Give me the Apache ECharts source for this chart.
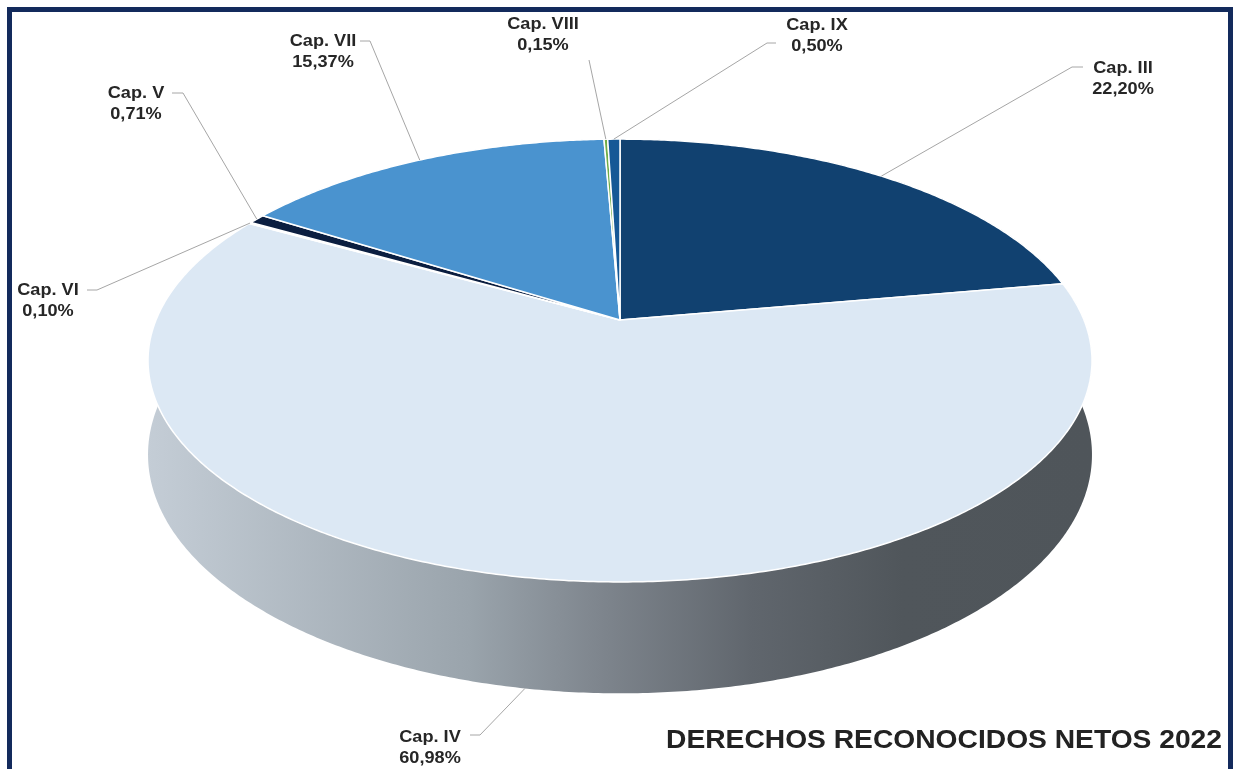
<!DOCTYPE html>
<html>
<head>
<meta charset="utf-8">
<script src="https://cdn.jsdelivr.net/npm/echarts@6/dist/echarts.min.js"></script>
<style>
html,body{margin:0;padding:0;background:#fff;}
#chart{width:1233px;height:769px;}
</style>
</head>
<body>
<div id="chart"></div>
<script>
// ---- data ----
const categories = ['Cap. III', 'Cap. IV', 'Cap. VI', 'Cap. V', 'Cap. VII', 'Cap. VIII', 'Cap. IX'];
const shares = [22.20, 60.98, 0.10, 0.71, 15.37, 0.15, 0.50];
const chartTitle = 'DERECHOS RECONOCIDOS NETOS 2022';

// ---- styles / layout ----
const sliceColors = ['#114170', '#dce8f4', '#c9daea', '#0b1e40', '#4a93cf', '#70ad47', '#155896'];
// label centre (x, y of the two-line block) and leader stub [x0,y0,x1,y1]
const labelLayout = [
  {x: 1123, y: 78.5, stub: [1083, 67, 1072, 67]},
  {x: 430,  y: 748,  stub: [470, 735, 480, 735]},
  {x: 48,   y: 300.5,stub: [87, 290, 97, 290]},
  {x: 136,  y: 103.5,stub: [172, 93, 183, 93]},
  {x: 323,  y: 52,   stub: [360, 41, 370, 41]},
  {x: 543,  y: 35,   stub: [589, 60, 589, 60]},
  {x: 817,  y: 36,   stub: [776, 43, 767, 43]}
];
const geo = {cx: 620, cy: 320, A: 214, B: 464, p: 0.183, H: 91};

function proj(theta, drop) {
  const d = 1 + geo.p * Math.cos(theta);
  return [geo.cx + geo.B * Math.sin(theta) / d,
          geo.cy - geo.A * Math.cos(theta) / d + drop / d];
}
const total = shares.reduce((a, b) => a + b, 0);
const starts = [];
(function () { let acc = 0; shares.forEach(v => { starts.push(acc); acc += v; }); })();
function angles(i, v) {
  const a0 = starts[i] / total * 2 * Math.PI;
  const a1 = (starts[i] + v) / total * 2 * Math.PI;
  return [a0, a1];
}
function arcPts(a0, a1, drop) {
  const pts = [];
  const n = Math.max(2, Math.ceil((a1 - a0) / (Math.PI / 360)));
  for (let k = 0; k <= n; k++) pts.push(proj(a0 + (a1 - a0) * k / n, drop));
  return pts;
}
function fmt(v) { return v.toFixed(2).replace('.', ',') + '%'; }

const sideFill = new echarts.graphic.LinearGradient(147, 0, 1092, 0, [
  {offset: 0, color: '#c4cdd6'},
  {offset: 0.34, color: '#9aa4ac'},
  {offset: 0.48, color: '#7e858d'},
  {offset: 0.64, color: '#60666d'},
  {offset: 0.80, color: '#50565b'},
  {offset: 1, color: '#4f555a'}
], true);

const seriesData = shares.map(v => [v]);

function renderSide(params, api) {
  const i = params.dataIndex;
  const [a0, a1] = angles(i, api.value(0));
  const top = arcPts(a0, a1, 0);
  const bot = arcPts(a0, a1, geo.H).reverse();
  return {
    type: 'polygon',
    shape: {points: top.concat(bot)},
    style: {fill: i === 1 ? sideFill : echarts.color.lift(sliceColors[i], -0.3), stroke: null}
  };
}
function renderTop(params, api) {
  const i = params.dataIndex;
  const [a0, a1] = angles(i, api.value(0));
  const pts = [[geo.cx, geo.cy]].concat(arcPts(a0, a1, 0));
  return {
    type: 'polygon',
    shape: {points: pts},
    style: {fill: sliceColors[i], stroke: '#ffffff', lineWidth: 1.5, lineJoin: 'round'}
  };
}
function renderLabel(params, api) {
  const i = params.dataIndex;
  const v = api.value(0);
  const [a0, a1] = angles(i, v);
  const mid = (a0 + a1) / 2;
  const end = Math.cos(mid) < -0.3 ? proj(mid, geo.H) : proj(mid, 0);
  const L = labelLayout[i];
  return {
    type: 'group',
    children: [
      {type: 'polyline',
       shape: {points: [[L.stub[0], L.stub[1]], [L.stub[2], L.stub[3]], end]},
       style: {stroke: '#a6a6a6', lineWidth: 1, fill: null}},
      {type: 'text', x: L.x, y: L.y, scaleX: 1.1, scaleY: 1,
       style: {x: 0, y: 0, text: categories[i] + '\n' + fmt(v),
               fill: '#262626', fontSize: 16.5, fontWeight: 'bold',
               fontFamily: '"Liberation Sans", Arial, sans-serif',
               align: 'center', verticalAlign: 'middle', lineHeight: 21}}
    ]
  };
}

const chart = echarts.init(document.getElementById('chart'));
chart.setOption({
  animation: false,
  backgroundColor: '#ffffff',
  graphic: [
    {type: 'rect', shape: {x: 9.5, y: 9.5, width: 1221, height: 800},
     style: {fill: null, stroke: '#132a5c', lineWidth: 5}, z: 10},
    {type: 'text', x: 1222, y: 741, scaleX: 1.085, scaleY: 1,
     style: {x: 0, y: 0, text: chartTitle, fill: '#222222', fontSize: 26, fontWeight: 'bold',
             fontFamily: '"Liberation Sans", Arial, sans-serif',
             align: 'right', verticalAlign: 'middle'}, z: 10}
  ],
  series: [
    {type: 'custom', coordinateSystem: 'none', z: 1, renderItem: renderSide, data: seriesData, silent: true},
    {type: 'custom', coordinateSystem: 'none', z: 2, renderItem: renderTop, data: seriesData},
    {type: 'custom', coordinateSystem: 'none', z: 3, renderItem: renderLabel, data: seriesData, silent: true}
  ]
});
</script>
</body>
</html>
